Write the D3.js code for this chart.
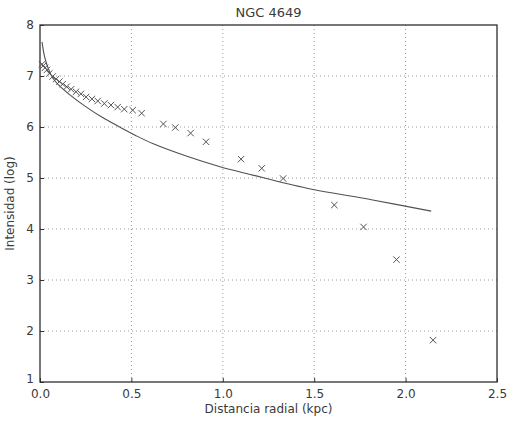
<!DOCTYPE html>
<html>
<head>
<meta charset="utf-8">
<script src="https://cdn.jsdelivr.net/npm/d3@7"></script>
<style>
  body { margin: 0; background: #fff; }
  text { font-family: "DejaVu Sans", sans-serif; fill: #3a3a3a; }
</style>
</head>
<body>
<div id="chart"></div>
<script>
// medidas (cruces)
var obsR = [0.011, 0.018, 0.027, 0.038, 0.051, 0.069, 0.088, 0.106, 0.124, 0.146,
            0.170, 0.197, 0.224, 0.252, 0.284, 0.316, 0.352, 0.388, 0.425, 0.461,
            0.507, 0.556, 0.675, 0.74, 0.824, 0.908, 1.10, 1.213, 1.33, 1.61,
            1.77, 1.95, 2.15]
var obsI = [7.23, 7.20, 7.16, 7.12, 7.05, 6.99, 6.94, 6.89, 6.84, 6.79,
            6.74, 6.69, 6.65, 6.59, 6.55, 6.51, 6.46, 6.43, 6.39, 6.35,
            6.33, 6.27, 6.06, 5.99, 5.88, 5.71, 5.37, 5.19, 4.99, 4.47,
            4.04, 3.40, 1.82]
// curva ajustada
var fitR = [0.011, 0.025, 0.045, 0.07, 0.10, 0.16, 0.25, 0.34, 0.43, 0.52, 0.62, 0.80, 0.985, 1.15, 1.46, 1.82, 2.14]
var fitI = [7.67, 7.38, 7.15, 6.96, 6.83, 6.64, 6.40, 6.19, 6.01, 5.84, 5.67, 5.43, 5.22, 5.07, 4.80, 4.57, 4.35]
var xTicks = [0.0, 0.5, 1.0, 1.5, 2.0, 2.5]
var yTicks = [1, 2, 3, 4, 5, 6, 7, 8]

var W = 515, H = 421
var m = {left: 40, right: 18, top: 25, bottom: 39}

var svg = d3.select('#chart').append('svg')
    .attr('width', W).attr('height', H)

var x = d3.scaleLinear().domain([0, 2.5]).range([m.left, W - m.right])
var y = d3.scaleLinear().domain([1, 8]).range([H - m.bottom, m.top])

//网格
svg.append('g').selectAll('line').data(xTicks.slice(1, -1)).enter().append('line')
    .attr('x1', d => x(d)).attr('x2', d => x(d))
    .attr('y1', y(1)).attr('y2', y(8))
    .attr('stroke', '#9a9a9a').attr('stroke-width', 1).attr('stroke-dasharray', '1,3')
svg.append('g').selectAll('line').data(yTicks.slice(1, -1)).enter().append('line')
    .attr('x1', x(0)).attr('x2', x(2.5))
    .attr('y1', d => y(d)).attr('y2', d => y(d))
    .attr('stroke', '#9a9a9a').attr('stroke-width', 1).attr('stroke-dasharray', '1,3')

// ejes
var xAxis = d3.axisBottom(x).tickValues(xTicks).tickFormat(d3.format('.1f')).tickSizeInner(-4).tickSizeOuter(0).tickPadding(7)
var yAxis = d3.axisLeft(y).tickValues(yTicks).tickFormat(d3.format('d')).tickSizeInner(-4).tickSizeOuter(0).tickPadding(6)
var gx = svg.append('g').attr('transform', 'translate(0,' + y(1) + ')').call(xAxis)
var gy = svg.append('g').attr('transform', 'translate(' + x(0) + ',0)').call(yAxis)
;[gx, gy].forEach(function (g) {
    g.select('.domain').remove()
    g.selectAll('line').attr('stroke', '#333')
    g.selectAll('text').attr('font-size', 12).attr('fill', '#444')
})
// el "1" queda pegado al "0.0", subirlo un poco
gy.selectAll('text').filter(d => d == 1).attr('dy', '0.05em')

svg.append('rect')
    .attr('x', x(0)).attr('y', y(8))
    .attr('width', x(2.5) - x(0)).attr('height', y(1) - y(8))
    .attr('fill', 'none').attr('stroke', '#2e2e2e').attr('stroke-width', 1.3)

// curva
var line = d3.line().x(d => x(d[0])).y(d => y(d[1])).curve(d3.curveCatmullRom.alpha(0.5))
svg.append('path')
    .datum(d3.zip(fitR, fitI))
    .attr('d', line)
    .attr('fill', 'none').attr('stroke', '#505050').attr('stroke-width', 1.1)

// cruces
var s = 3.2
var pts = svg.append('g').selectAll('path').data(d3.zip(obsR, obsI)).enter().append('path')
    .attr('d', function (d) {
        var cx = x(d[0]), cy = y(d[1])
        return 'M' + (cx - s) + ',' + (cy - s) + 'L' + (cx + s) + ',' + (cy + s) +
               'M' + (cx - s) + ',' + (cy + s) + 'L' + (cx + s) + ',' + (cy - s)
    })
    .attr('stroke', '#555').attr('stroke-width', 1).attr('fill', 'none')

// textos
svg.append('text').text('NGC 4649')
    .attr('x', (x(0) + x(2.5)) / 2).attr('y', 17)
    .attr('text-anchor', 'middle').attr('font-size', 13)
svg.append('text').text('Distancia radial (kpc)')
    .attr('x', (x(0) + x(2.5)) / 2).attr('y', 413)
    .attr('text-anchor', 'middle').attr('font-size', 12)
svg.append('text').text('Intensidad (log)')
    .attr('transform', 'translate(14,' + (y(1) + y(8)) / 2 + ') rotate(-90)')
    .attr('text-anchor', 'middle').attr('font-size', 12)
</script>
</body>
</html>
